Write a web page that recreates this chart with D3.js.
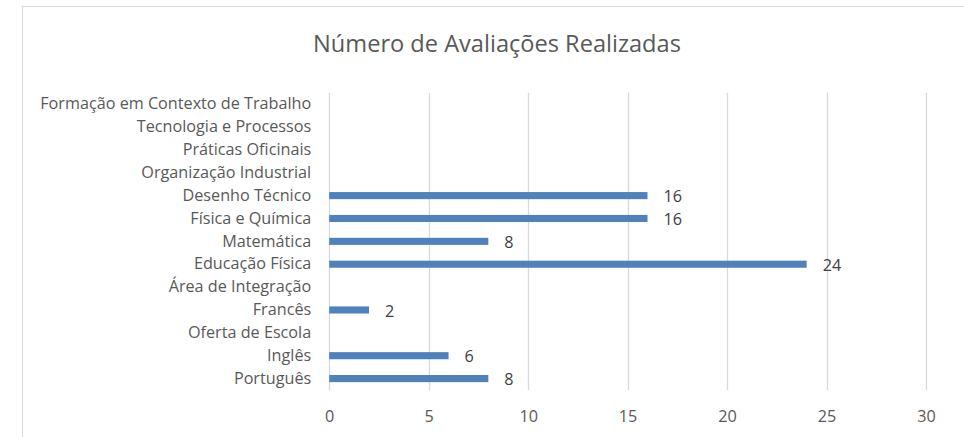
<!DOCTYPE html>
<html>
<head>
<meta charset="utf-8">
<script src="https://cdn.jsdelivr.net/npm/d3@7"></script>
<style>
  body { margin: 0; background: #fff; }
  svg text { font-family: "Open Sans", "Noto Sans", sans-serif; fill: #595959; }
</style>
</head>
<body>
<div id="chart"></div>
<script>
// categories top to bottom, as in the picture
var categories = [
  "Formação em Contexto de Trabalho",
  "Tecnologia e Processos",
  "Práticas Oficinais",
  "Organização Industrial",
  "Desenho Técnico",
  "Física e Química",
  "Matemática",
  "Educação Física",
  "Área de Integração",
  "Francês",
  "Oferta de Escola",
  "Inglês",
  "Português"
];
// null = no bar and no label
var values = [null, null, null, null, 16, 16, 8, 24, null, 2, null, 6, 8];
var xTicks = [0, 5, 10, 15, 20, 25, 30];
var title = "Número de Avaliações Realizadas";

var W = 964, H = 437;
var margin = {top: 92.7, right: 38, bottom: 47, left: 329.2};

var svg = d3.select("#chart").append("svg")
    .attr("width", W)
    .attr("height", H);

// chart frame (cut off on right and bottom like the screenshot)
svg.append("rect")
    .attr("x", 22.5).attr("y", 6.5)
    .attr("width", 960).attr("height", 450)
    .attr("fill", "none")
    .attr("stroke", "#d9d9d9")
    .attr("stroke-width", 1);

var x = d3.scaleLinear()
    .domain([0, 30])
    .range([margin.left, W - margin.right]);

var y = d3.scaleBand()
    .domain(categories)
    .range([margin.top, H - margin.bottom])
    .paddingInner(0.69)
    .paddingOuter(0.345);

// vertical gridlines
svg.append("g")
    .selectAll("line")
    .data(xTicks)
    .enter().append("line")
    .attr("x1", function(d) { return Math.round(x(d)) + 0.5; })
    .attr("x2", function(d) { return Math.round(x(d)) + 0.5; })
    .attr("y1", margin.top)
    .attr("y2", H - margin.bottom)
    .attr("stroke", "#d9d9d9")
    .attr("stroke-width", 1.3);

// x axis labels
var xAxis = svg.append("g")
    .attr("transform", "translate(0," + (H - margin.bottom) + ")")
    .call(d3.axisBottom(x).tickValues(xTicks).tickSize(0).tickPadding(20));
xAxis.select(".domain").remove();
xAxis.selectAll("text")
    .style("font-size", "16.2px")
    .style("font-family", null);

// y axis labels
var yAxis = svg.append("g")
    .attr("transform", "translate(" + (margin.left - 18) + ",0)")
    .call(d3.axisLeft(y).tickSize(0).tickPadding(0));
yAxis.select(".domain").remove();
yAxis.selectAll("text")
    .style("font-size", "16.2px")
    .style("font-family", null);

var data = categories.map(function(c, i) { return {name: c, value: values[i]}; })
    .filter(function(d) { return d.value != null; });

// bars
svg.selectAll(".bar")
    .data(data)
    .enter().append("rect")
    .attr("class", "bar")
    .attr("x", x(0))
    .attr("y", function(d) { return y(d.name); })
    .attr("width", function(d) { return x(d.value) - x(0); })
    .attr("height", y.bandwidth())
    .attr("fill", "#4f81bd");

// value labels
svg.selectAll(".lbl")
    .data(data)
    .enter().append("text")
    .attr("class", "lbl")
    .attr("x", function(d) { return x(d.value) + 16; })
    .attr("y", function(d) { return y(d.name) + y.bandwidth() / 2 + 1; })
    .attr("dy", "0.35em")
    .style("font-size", "16.2px")
    .style("fill", "#404040")
    .text(function(d) { return d.value; });

// title
svg.append("text")
    .attr("x", 497)
    .attr("y", 52)
    .attr("text-anchor", "middle")
    .style("font-size", "23.6px")
    .text(title);
</script>
</body>
</html>
